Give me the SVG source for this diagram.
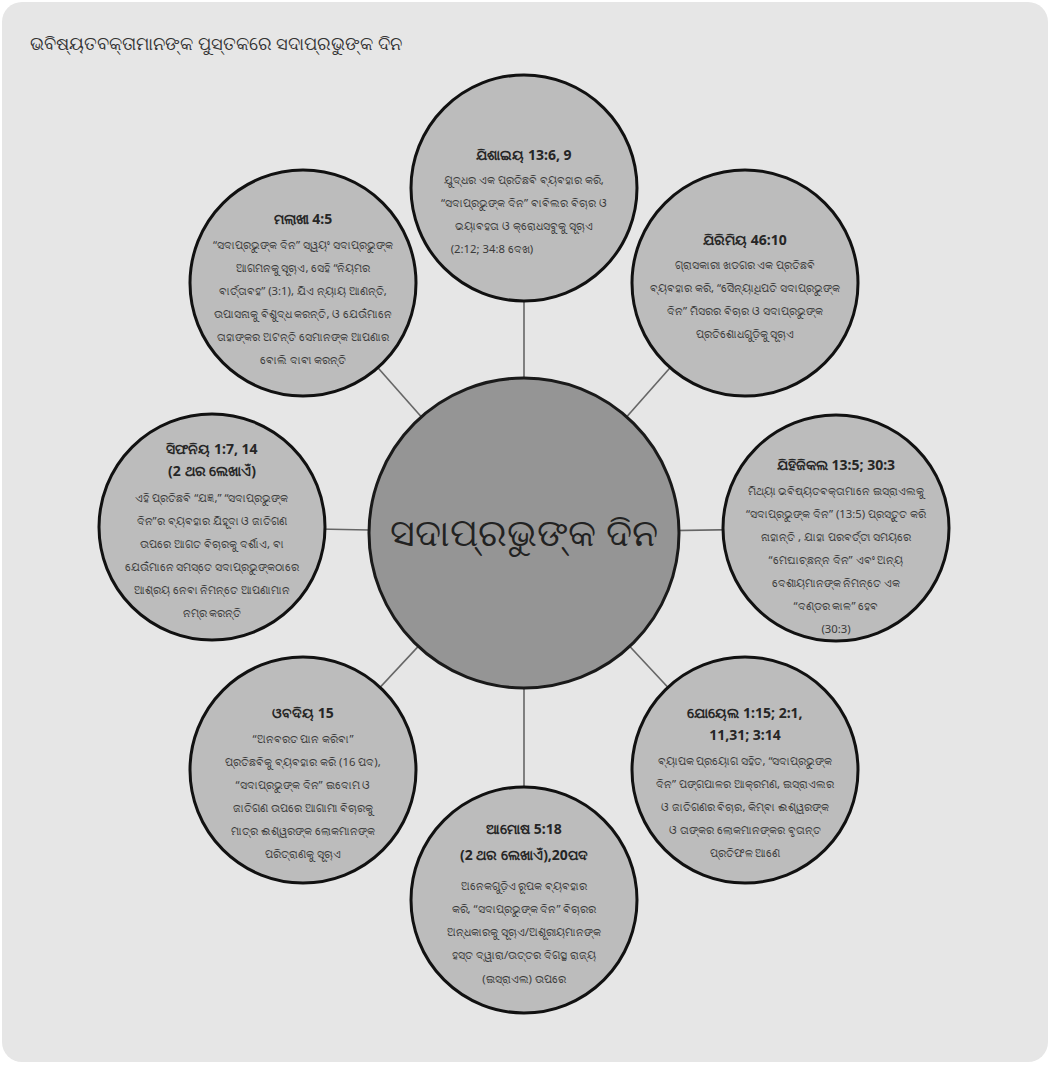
<svg xmlns="http://www.w3.org/2000/svg" width="1050" height="1066" viewBox="0 0 1050 1066">
  <style>
    .panel { fill: #e6e6e6; }
    .node { fill: #bcbcbc; stroke: #111; stroke-width: 3; }
    .hub { fill: #959595; stroke: #1a1a1a; stroke-width: 3; }
    .link { stroke: #666; stroke-width: 1.6; fill: none; }
    text { font-family: "Noto Sans", "DejaVu Sans", "Liberation Sans", sans-serif; text-anchor: middle; }
    .head { font-size: 18px; fill: #333; text-anchor: start; }
    .ttl { font-size: 14px; font-weight: bold; fill: #262626; }
    .body { font-size: 11.3px; fill: #3a3a3a; }
    .hubtxt { font-size: 38px; fill: #222; }
  </style>

  <rect x="0" y="0" width="1050" height="1066" fill="#ffffff"/>
  <rect class="panel" x="2" y="2" width="1046" height="1060" rx="20"/>

  <text class="head" x="30" y="50">ଭବିଷ୍ୟତବକ୍ତାମାନଙ୍କ ପୁସ୍ତକରେ ସଦାପ୍ରଭୁଙ୍କ ଦିନ</text>

  <!-- spokes from the hub to each book -->
  <g id="connectors">
    <line class="link" x1="524" y1="533" x2="524" y2="188"/>
    <line class="link" x1="524" y1="533" x2="745" y2="283"/>
    <line class="link" x1="524" y1="533" x2="836" y2="528"/>
    <line class="link" x1="524" y1="533" x2="745" y2="770"/>
    <line class="link" x1="524" y1="533" x2="524" y2="900"/>
    <line class="link" x1="524" y1="533" x2="303" y2="770"/>
    <line class="link" x1="524" y1="533" x2="212" y2="527"/>
    <line class="link" x1="524" y1="533" x2="303" y2="283"/>
  </g>

  <g id="hub">
    <circle class="hub" cx="524" cy="533" r="155"/>
    <text class="hubtxt" x="524" y="546">ସଦାପ୍ରଭୁଙ୍କ ଦିନ</text>
  </g>

  <g id="isaiah">
    <circle class="node" cx="524" cy="188" r="113"/>
    <text class="ttl" x="524" y="160">ଯିଶାଇୟ 13:6, 9</text>
    <text class="body" x="524" y="184">ଯୁଦ୍ଧର ଏକ ପ୍ରତିଛବି ବ୍ୟବହାର କରି,</text>
    <text class="body" x="524" y="207">“ସଦାପ୍ରଭୁଙ୍କ ଦିନ” ବାବିଲର ବିଚାର ଓ</text>
    <text class="body" x="524" y="230">ଭୟାବହତା ଓ କ୍ରୋଧସବୁକୁ ସୂଚାଏ</text>
    <text class="body" x="492" y="253">(2:12; 34:8 ଦେଖ)</text>
  </g>

  <g id="jeremiah">
    <circle class="node" cx="745" cy="283" r="113"/>
    <text class="ttl" x="745" y="245">ଯିରିମିୟ 46:10</text>
    <text class="body" x="745" y="269">ଗ୍ରାସକାରୀ ଖଡଗର ଏକ ପ୍ରତିଛବି</text>
    <text class="body" x="745" y="292">ବ୍ୟବହାର କରି, “ସୈନ୍ୟାଧିପତି ସଦାପ୍ରଭୁଙ୍କ</text>
    <text class="body" x="745" y="315">ଦିନ” ମିସରର ବିଚାର ଓ ସଦାପ୍ରଭୁଙ୍କ</text>
    <text class="body" x="745" y="338">ପ୍ରତିଶୋଧଗୁଡ଼ିକୁ ସୂଚାଏ</text>
  </g>

  <g id="ezekiel">
    <circle class="node" cx="836" cy="528" r="113"/>
    <text class="ttl" x="836" y="470">ଯିହିଜିକଲ 13:5; 30:3</text>
    <text class="body" x="836" y="495">ମିଥ୍ୟା ଭବିଷ୍ୟତବକ୍ତାମାନେ ଇସ୍ରାଏଲକୁ</text>
    <text class="body" x="836" y="518">“ସଦାପ୍ରଭୁଙ୍କ ଦିନ” (13:5) ପ୍ରସ୍ତୁତ କରି</text>
    <text class="body" x="836" y="541">ନାହାନ୍ତି , ଯାହା ପରବର୍ତ୍ତୀ ସମୟରେ</text>
    <text class="body" x="836" y="564">“ମେଘାଚ୍ଛନ୍ନ ଦିନ” ଏବଂ ଅନ୍ୟ</text>
    <text class="body" x="836" y="587">ଦେଶୀୟମାନଙ୍କ ନିମନ୍ତେ ଏକ</text>
    <text class="body" x="836" y="610">“ଦଣ୍ଡର କାଳ” ହେବ</text>
    <text class="body" x="836" y="633">(30:3)</text>
  </g>

  <g id="joel">
    <circle class="node" cx="745" cy="770" r="113"/>
    <text class="ttl" x="745" y="718">ଯୋୟେଲ  1:15; 2:1,</text>
    <text class="ttl" x="745" y="740">11,31; 3:14</text>
    <text class="body" x="745" y="765">ବ୍ୟାପକ ପ୍ରୟୋଗ ସହିତ, “ସଦାପ୍ରଭୁଙ୍କ</text>
    <text class="body" x="745" y="788">ଦିନ” ପଙ୍ଗପାଳର ଆକ୍ରମଣ, ଇସ୍ରାଏଲର</text>
    <text class="body" x="745" y="811">ଓ ଜାତିଗଣର ବିଚାର, କିମ୍ବା ଈଶ୍ୱରଙ୍କ</text>
    <text class="body" x="745" y="834">ଓ ତାଙ୍କର ଲୋକମାନଙ୍କର ବୃତାନ୍ତ</text>
    <text class="body" x="745" y="857">ପ୍ରତିଫଳ ଆଣେ</text>
  </g>

  <g id="amos">
    <circle class="node" cx="524" cy="900" r="113"/>
    <text class="ttl" x="524" y="834">ଆମୋଷ  5:18</text>
    <text class="ttl" x="524" y="860">(2 ଥର ଲେଖାଏଁ),20ପଦ</text>
    <text class="body" x="524" y="890">ଅନେକଗୁଡ଼ିଏ ରୂପକ ବ୍ୟବହାର</text>
    <text class="body" x="524" y="913">କରି, “ସଦାପ୍ରଭୁଙ୍କ ଦିନ” ବିଚାରର</text>
    <text class="body" x="524" y="936">ଅନ୍ଧକାରକୁ ସୂଚାଏ/ଅଶୂରୀୟମାନଙ୍କ</text>
    <text class="body" x="524" y="959">ହସ୍ତ ଦ୍ୱାରା/ଉତ୍ତର ଦିଗସ୍ଥ ରାଜ୍ୟ</text>
    <text class="body" x="524" y="983">(ଇସ୍ରାଏଲ) ଉପରେ</text>
  </g>

  <g id="obadiah">
    <circle class="node" cx="303" cy="770" r="113"/>
    <text class="ttl" x="303" y="718">ଓବଦିୟ 15</text>
    <text class="body" x="303" y="743">“ଅନବରତ ପାନ କରିବା”</text>
    <text class="body" x="303" y="766">ପ୍ରତିଛବିକୁ ବ୍ୟବହାର କରି (16 ପଦ),</text>
    <text class="body" x="303" y="789">“ସଦାପ୍ରଭୁଙ୍କ ଦିନ” ଇଦୋମ ଓ</text>
    <text class="body" x="303" y="812">ଜାତିଗଣ ଉପରେ ଆଗାମୀ ବିଚାରକୁ</text>
    <text class="body" x="303" y="835">ମାତ୍ର ଈଶ୍ୱରଙ୍କ ଲୋକମାନଙ୍କ</text>
    <text class="body" x="303" y="858">ପରିତ୍ରାଣକୁ ସୂଚାଏ</text>
  </g>

  <g id="zephaniah">
    <circle class="node" cx="212" cy="527" r="113"/>
    <text class="ttl" x="212" y="454">ସିଫନିୟ  1:7, 14</text>
    <text class="ttl" x="212" y="476">(2 ଥର ଲେଖାଏଁ)</text>
    <text class="body" x="212" y="502">ଏହି ପ୍ରତିଛବି  “ଯଜ୍ଞ,” “ସଦାପ୍ରଭୁଙ୍କ</text>
    <text class="body" x="212" y="525">ଦିନ”ର ବ୍ୟବହାର ଯିହୂଦା ଓ ଜାତିଗଣ</text>
    <text class="body" x="212" y="548">ଉପରେ ଆଗତ ବିଚାରକୁ ଦର୍ଶାଏ, ବା</text>
    <text class="body" x="212" y="571">ଯେଉଁମାନେ ସମସ୍ତେ ସଦାପ୍ରଭୁଙ୍କଠାରେ</text>
    <text class="body" x="212" y="594">ଆଶ୍ରୟ ନେବା ନିମନ୍ତେ ଆପଣାମାନ</text>
    <text class="body" x="212" y="617">ନମ୍ର କରନ୍ତି</text>
  </g>

  <g id="malachi">
    <circle class="node" cx="303" cy="283" r="113"/>
    <text class="ttl" x="303" y="224">ମଲାଖୀ 4:5</text>
    <text class="body" x="303" y="249">“ସଦାପ୍ରଭୁଙ୍କ ଦିନ” ସ୍ୱୟଂ ସଦାପ୍ରଭୁଙ୍କ</text>
    <text class="body" x="303" y="272">ଆଗମନକୁ ସୂଚାଏ, ସେହି “ନିୟମର</text>
    <text class="body" x="303" y="295">ବାର୍ତ୍ତାବହ” (3:1), ଯିଏ ନ୍ୟାୟ ଆଣନ୍ତି,</text>
    <text class="body" x="303" y="318">ଉପାସନାକୁ ବିଶୁଦ୍ଧ କରନ୍ତି, ଓ ଯେଉଁମାନେ</text>
    <text class="body" x="303" y="341">ତାହାଙ୍କର ଅଟନ୍ତି ସେମାନଙ୍କ ଆପଣାର</text>
    <text class="body" x="303" y="364">ବୋଲି ଦାବୀ କରନ୍ତି</text>
  </g>
</svg>
